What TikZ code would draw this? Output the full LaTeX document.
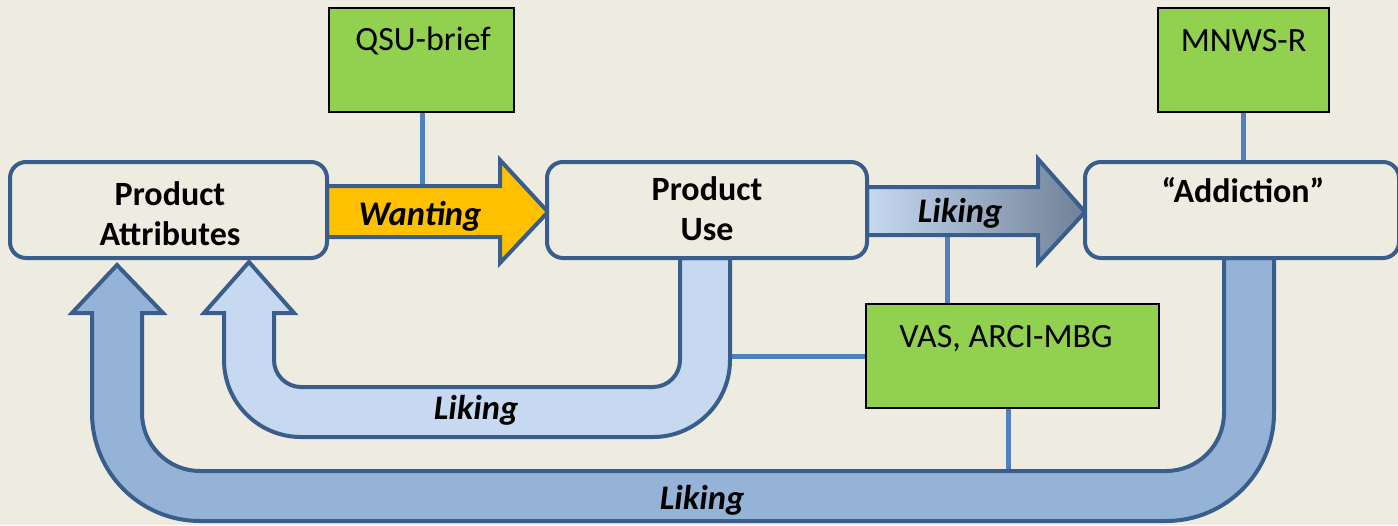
\documentclass[tikz,border=0pt]{standalone}
\usepackage{fontspec}
\setmainfont{Carlito}
\definecolor{paper}{HTML}{EEECE1}
\definecolor{frame}{HTML}{3A5E8C}
\definecolor{wirecol}{HTML}{4F81BD}
\definecolor{leaf}{HTML}{92D050}
\definecolor{gold}{HTML}{FFC000}
\definecolor{paleblue}{HTML}{C6D9F1}
\definecolor{midblue}{HTML}{95B3D7}
\definecolor{slate}{HTML}{6F8197}
\pgfdeclarelayer{canvas}
\pgfdeclarelayer{links}
\pgfsetlayers{canvas,links,main}
\tikzset{
  stage/.style={draw=frame, line width=4pt, fill=paper, rounded corners=16pt, inner sep=0pt},
  measure/.style={draw=black, line width=1.8pt, fill=leaf, inner sep=0pt},
  blockarrow/.style={draw=frame, line width=4pt, line join=miter},
  wire/.style={draw=wirecol, line width=5pt},
  stagetext/.style={font=\fontsize{34}{40}\selectfont\bfseries, align=center, inner sep=0pt},
  measuretext/.style={font=\fontsize{34}{40}\selectfont, anchor=base, inner sep=0pt},
  flowtext/.style={font=\fontsize{34.5}{40}\selectfont\bfseries\itshape, anchor=base, inner sep=0pt},
}
\begin{document}
\begin{tikzpicture}[x=1pt, y=-1pt]
% canvas
\begin{pgfonlayer}{canvas}
  \fill[paper] (0,0) rectangle (1398,525);
\end{pgfonlayer}
\useasboundingbox (0,0) rectangle (1398,525);

% long feedback loop: Addiction -> Product Attributes
\draw[blockarrow, fill=midblue]
  (1224,258) -- (1224,413) arc[start angle=0, end angle=90, radius=58]
  -- (200,471) arc[start angle=90, end angle=180, radius=58]
  -- (142,313) -- (163,313) -- (117,265) -- (72,313) -- (92,313)
  -- (92,413) arc[start angle=180, end angle=90, radius=108]
  -- (1166,521) arc[start angle=90, end angle=0, radius=108]
  -- (1274,258) -- cycle;

% short feedback loop: Product Use -> Product Attributes
\draw[blockarrow, fill=paleblue]
  (680,258) -- (680,360) arc[start angle=0, end angle=90, radius=27]
  -- (301,387) arc[start angle=90, end angle=180, radius=27]
  -- (274,313) -- (294,313) -- (249,262) -- (204,313) -- (224,313)
  -- (224,360) arc[start angle=180, end angle=90, radius=77]
  -- (653,437) arc[start angle=90, end angle=0, radius=77]
  -- (730,258) -- cycle;

% forward arrows
\draw[blockarrow, fill=gold]
  (327,186) -- (500,186) -- (500,160) -- (548,212) -- (500,263) -- (500,237) -- (327,237) -- cycle;
\draw[blockarrow, left color=paleblue, right color=slate]
  (867,187) -- (1038,187) -- (1038,159) -- (1085,212) -- (1038,263) -- (1038,235) -- (867,235) -- cycle;

% anchor points on the block arrows
\coordinate (wantTop) at (422,186);
\coordinate (likeBottom) at (947,235);
\coordinate (shortLoopEdge) at (730,356);
\coordinate (longLoopEdge) at (1008,471);

% stages
\node[stage, minimum width=317pt, minimum height=96pt] (attr) at (168.5,210) {};
\node[stage, minimum width=320pt, minimum height=96pt] (use) at (707,210) {};
\node[stage, minimum width=314pt, minimum height=96pt] (addict) at (1242,210) {};

\node[stagetext] at (170,214) {Product\\Attributes};
\node[stagetext] at (707,209) {Product\\Use};
\node[stagetext, anchor=base] at (1243,202) {“Addiction”};

% measures
\node[measure, minimum width=185pt, minimum height=104pt] (qsu) at (421.5,60) {};
\node[measure, minimum width=171pt, minimum height=104pt] (mnws) at (1243.5,60) {};
\node[measure, minimum width=293pt, minimum height=104pt] (vas) at (1012.5,356) {};

\node[measuretext] at (423,50) {QSU-brief};
\node[measuretext] at (1243.5,51) {MNWS-R};
\node[measuretext] at (1006,347) {VAS, ARCI-MBG};

% links from measures to what they assess (kept beneath boxes and arrows)
\begin{pgfonlayer}{links}
  \draw[wire] (qsu.south -| wantTop) -- (wantTop);
  \draw[wire] (mnws.south) -- (mnws.south |- addict.north);
  \draw[wire] (likeBottom) -- (likeBottom |- vas.north);
  \draw[wire] (shortLoopEdge) -- (shortLoopEdge -| vas.west);
  \draw[wire] (vas.south -| longLoopEdge) -- (longLoopEdge);
\end{pgfonlayer}

% arrow labels
\node[flowtext] at (420,225) {Wanting};
\node[flowtext] at (960,222) {Liking};
\node[flowtext] at (476,419) {Liking};
\node[flowtext] at (702,509) {Liking};
\end{tikzpicture}
\end{document}
